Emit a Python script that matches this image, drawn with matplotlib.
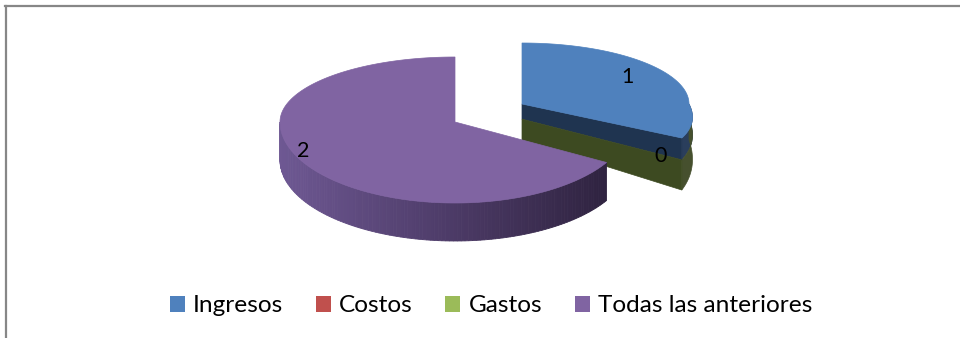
import numpy as np
import matplotlib
matplotlib.use("Agg")
import matplotlib.pyplot as plt
from matplotlib.patches import Polygon, Patch
from matplotlib.lines import Line2D

# ---- data ----
categories = ["Ingresos", "Costos", "Gastos", "Todas las anteriores"]
values = [1, 0, 0, 2]
labels_shown = ["1", "0", "0", "2"]
top_colors = ["#4F81BD", "#C0504D", "#9BBB59", "#8064A2"]

plt.rcParams['font.family'] = ['Lato', 'DejaVu Sans']

W, H = 960, 338
fig = plt.figure(figsize=(W / 100, H / 100), dpi=100)
ax = fig.add_axes([0, 0, 1, 1])
ax.set_xlim(0, W)
ax.set_ylim(H, 0)
ax.axis("off")

# slice angles (start at 12 o'clock, clockwise)
total = float(sum(values))
cum = np.concatenate([[0], np.cumsum(values)])
t_start = 90 - 360 * cum[:-1] / total
t_end = 90 - 360 * cum[1:] / total

# ---- geometry (layout parameters) ----
main = dict(cx=455, cy=122, a=175, ka=0.0, bb=65, bf=81, d=38, kd=0.0)
expl = dict(cx=522, cy=104, a=167, ka=0.21, bb=61, bf=68, d=36, kd=0.89)


def P(g, t_deg, depth=0.0):
    t = np.radians(t_deg)
    s = np.sin(t)
    near = max(-s, 0.0)
    a = g["a"] * (1 + g["ka"] * near)
    b = g["bb"] if s > 0 else g["bf"]
    x = g["cx"] + a * np.cos(t)
    y = g["cy"] - b * s
    dd = g["d"] * (1 + g["kd"] * near)
    return x, y + depth * dd


def V(g, depth=0.0):
    return g["cx"], g["cy"] + depth * g["d"]


def mix(c1, c2, f):
    c1 = np.array(matplotlib.colors.to_rgb(c1))
    c2 = np.array(matplotlib.colors.to_rgb(c2))
    return tuple(c1 + (c2 - c1) * f)


navy = "#1F3450"
olive = "#3D4A21"
navy_frac = 0.42

# ---------- exploded slice: Ingresos ----------
g = expl
t0, t1 = t_start[0], t_end[0]
ts = np.linspace(0, t1, 20)
for (lo, hi, c) in [(0, navy_frac, "#2A3E5C"), (navy_frac, 1.0, "#46502E")]:
    pts = [P(g, t, lo) for t in ts] + [P(g, t, hi) for t in ts[::-1]]
    ax.add_patch(Polygon(pts, closed=True, fc=c, ec=c, lw=0.5, zorder=1))
for (lo, hi, c) in [(0, navy_frac, navy), (navy_frac, 1.0, olive)]:
    pts = [V(g, lo), P(g, t1, lo), P(g, t1, hi), V(g, hi)]
    ax.add_patch(Polygon(pts, closed=True, fc=c, ec=c, lw=0.5, zorder=2))
ts = np.linspace(t0, t1, 120)
pts = [V(g)] + [P(g, t) for t in ts]
ax.add_patch(Polygon(pts, closed=True, fc=top_colors[0], ec=top_colors[0], lw=0.5, zorder=3))

# ---------- main slice: Todas las anteriores ----------
g = main
t0, t1 = t_start[3], t_end[3]
wall_ts = np.linspace(-180, t0, 120)
xs = [P(g, t)[0] for t in wall_ts]
xmin, xmax = min(xs), max(xs)
c_left, c_mid, c_right = "#6E5893", "#4E3C69", "#2F2340"
for i in range(len(wall_ts) - 1):
    ta, tb = wall_ts[i], wall_ts[i + 1]
    xm = 0.5 * (P(g, ta)[0] + P(g, tb)[0])
    f = (xm - xmin) / (xmax - xmin)
    col = mix(c_left, c_mid, f / 0.5) if f < 0.5 else mix(c_mid, c_right, (f - 0.5) / 0.5)
    pts = [P(g, ta), P(g, tb), P(g, tb, 1), P(g, ta, 1)]
    ax.add_patch(Polygon(pts, closed=True, fc=col, ec=col, lw=0.6, zorder=4))
ts = np.linspace(t0, t1, 200)
pts = [V(g)] + [P(g, t) for t in ts]
ax.add_patch(Polygon(pts, closed=True, fc=top_colors[3], ec=top_colors[3], lw=0.5, zorder=5))

# ---------- data labels ----------
lab_kw = dict(fontsize=15.5, color="black", ha="center", va="center", zorder=10)
tm = 0.5 * (t_start[0] + t_end[0])
x, y = P(expl, tm)
ax.text(expl["cx"] + 0.73 * (x - expl["cx"]), expl["cy"] + 0.9 * (y - expl["cy"]),
        labels_shown[0], **lab_kw)
x, y = P(expl, t_end[0], 0.52)
ax.text(expl["cx"] + 0.87 * (x - expl["cx"]), y - 9, labels_shown[2], **lab_kw)
tm = 0.5 * (t_start[3] + t_end[3])
x, y = P(main, tm)
ax.text(main["cx"] + 1.0 * (x - main["cx"]), main["cy"] + 0.72 * (y - main["cy"]),
        labels_shown[3], **lab_kw)

# ---------- chart border ----------
ax.add_line(Line2D([5, W], [6, 6], color="#878787", lw=1.6, zorder=20))
ax.add_line(Line2D([6, 6], [6, H], color="#878787", lw=1.6, zorder=20))

# ---------- legend ----------
handles = [Patch(facecolor=c, edgecolor="none") for c in top_colors]
fig.legend(handles, categories, loc="center", bbox_to_anchor=(491 / W, 1 - 306 / H),
           ncol=4, frameon=False, fontsize=17.6, handlelength=0.62, handleheight=0.66,
           handletextpad=0.33, columnspacing=1.33, borderpad=0, borderaxespad=0)

fig.savefig("out.png", dpi=100)
